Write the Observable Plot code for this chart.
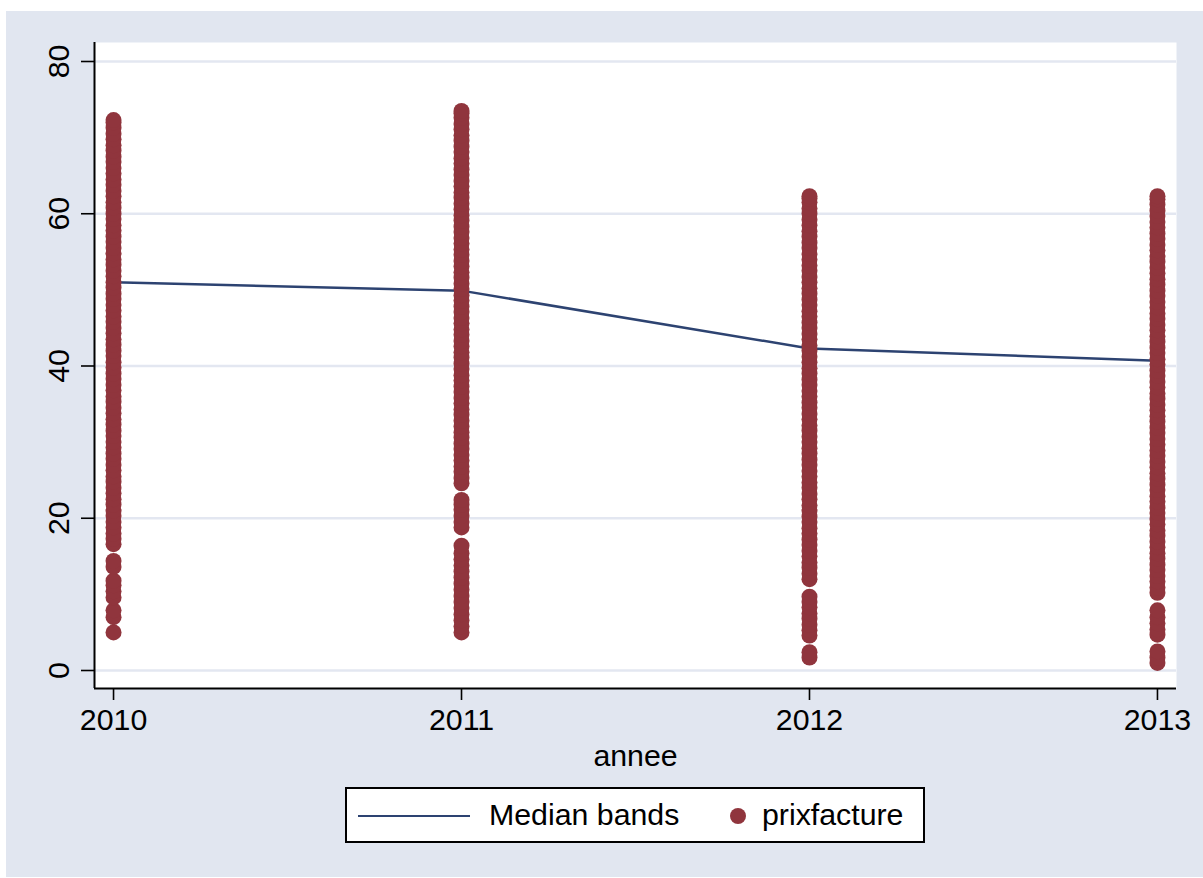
<!DOCTYPE html>
<html>
<head>
<meta charset="utf-8">
<script src="https://cdn.jsdelivr.net/npm/d3@7"></script>
<script src="https://cdn.jsdelivr.net/npm/@observablehq/plot@0.6"></script>
<style>
  html, body { margin: 0; padding: 0; background: #ffffff; }
  #wrap { position: relative; width: 1203px; height: 878px; overflow: hidden;
          font-family: "Liberation Sans", Arial, Helvetica, sans-serif; }
  #bg { position: absolute; left: 6px; top: 11px; right: 0; bottom: 1px; background: #e1e6f0; }
  #chart { position: absolute; left: 0; top: 0; }
  #legend { position: absolute; left: 345px; top: 787px; width: 580px; height: 56px;
            box-sizing: border-box; border: 2px solid #000; background: #fff; }
  #legend .ln { position: absolute; left: 11px; top: 26px; width: 112px; height: 0;
                border-top: 2.5px solid #2d4371; }
  #legend .dot { position: absolute; left: 383px; top: 19px; width: 16px; height: 16px;
                 border-radius: 50%; background: #90353d; }
  #legend .t { position: absolute; top: 10px; font-size: 30.3px; line-height: 32px; color: #000; }
</style>
</head>
<body>
<div id="wrap">
  <div id="bg"></div>
  <div id="chart"></div>
  <div id="legend">
    <div class="ln"></div>
    <div class="t" style="left:142px">Median bands</div>
    <div class="dot"></div>
    <div class="t" style="left:415px">prixfacture</div>
  </div>
</div>
<script>
// ---- data ----
const years = [2010, 2011, 2012, 2013];
const medianBands = [51.0, 49.9, 42.3, 40.7];

const prix2010 = [5.0, 7.0, 7.9, 9.6, 10.4, 11.2, 11.8, 13.6, 14.4, 16.6, 17.3, 18.0, 18.8, 19.5, 20.3,
  21.0, 21.8, 22.5, 23.3, 24.0, 24.8, 25.5, 26.3, 27.0, 27.8, 28.5, 29.3, 30.0, 30.8, 31.5, 32.3,
  33.0, 33.8, 34.5, 35.3, 36.0, 36.8, 37.5, 38.3, 39.0, 39.8, 40.5, 41.3, 42.0, 42.8, 43.5, 44.3,
  45.0, 45.8, 46.5, 47.3, 48.0, 48.8, 49.5, 50.3, 51.0, 51.8, 52.5, 53.3, 54.0, 54.8, 55.5, 56.3,
  57.0, 57.8, 58.5, 59.3, 60.0, 60.8, 61.5, 62.3, 63.0, 63.8, 64.5, 65.3, 66.0, 66.8, 67.5, 68.3,
  69.0, 69.8, 70.5, 71.3, 72.0, 72.3];
const prix2011 = [5.0, 5.8, 6.6, 7.4, 8.2, 9.0, 9.8, 10.6, 11.4, 12.2, 13.0, 13.8, 14.6, 15.4, 16.4,
  18.8, 19.5, 20.3, 21.1, 21.8, 22.4, 24.6, 25.3, 26.1, 26.8, 27.6, 28.3, 29.1, 29.8, 30.6, 31.3,
  32.1, 32.8, 33.6, 34.3, 35.1, 35.8, 36.6, 37.3, 38.1, 38.8, 39.6, 40.3, 41.1, 41.8, 42.6, 43.3,
  44.1, 44.8, 45.6, 46.3, 47.1, 47.8, 48.6, 49.3, 50.1, 50.8, 51.6, 52.3, 53.1, 53.8, 54.6, 55.3,
  56.1, 56.8, 57.6, 58.3, 59.1, 59.8, 60.6, 61.3, 62.1, 62.8, 63.6, 64.3, 65.1, 65.8, 66.6, 67.3,
  68.1, 68.8, 69.6, 70.3, 71.1, 71.8, 72.6, 73.2, 73.5];
const prix2012 = [1.7, 2.4, 4.6, 5.3, 6.0, 6.8, 7.5, 8.3, 9.0, 9.7, 12.0, 12.7, 13.5, 14.2, 15.0, 15.7,
  16.5, 17.2, 18.0, 18.7, 19.5, 20.2, 21.0, 21.7, 22.5, 23.2, 24.0, 24.7, 25.5, 26.2, 27.0, 27.7,
  28.5, 29.2, 30.0, 30.7, 31.5, 32.2, 33.0, 33.7, 34.5, 35.2, 36.0, 36.7, 37.5, 38.2, 39.0, 39.7,
  40.5, 41.2, 42.0, 42.7, 43.5, 44.2, 45.0, 45.7, 46.5, 47.2, 48.0, 48.7, 49.5, 50.2, 51.0, 51.7,
  52.5, 53.2, 54.0, 54.7, 55.5, 56.2, 57.0, 57.7, 58.5, 59.2, 60.0, 60.7, 61.5, 62.0, 62.3];
const prix2013 = [1.0, 1.7, 2.5, 4.7, 5.4, 6.2, 7.0, 7.9, 10.2, 10.9, 11.7, 12.4, 13.2, 13.9, 14.7,
  15.4, 16.2, 16.9, 17.7, 18.4, 19.2, 19.9, 20.7, 21.4, 22.2, 22.9, 23.7, 24.4, 25.2, 25.9, 26.7,
  27.4, 28.2, 28.9, 29.7, 30.4, 31.2, 31.9, 32.7, 33.4, 34.2, 34.9, 35.7, 36.4, 37.2, 37.9, 38.7,
  39.4, 40.2, 40.9, 41.7, 42.4, 43.2, 43.9, 44.7, 45.4, 46.2, 46.9, 47.7, 48.4, 49.2, 49.9, 50.7,
  51.4, 52.2, 52.9, 53.7, 54.4, 55.2, 55.9, 56.7, 57.4, 58.2, 58.9, 59.7, 60.4, 61.2, 61.9, 62.3];

const xTicks = [2010, 2011, 2012, 2013];
const yTicks = [0, 20, 40, 60, 80];
const xLabel = "annee";
const xDomain = [2009.9453, 2013.0547];
const yDomain = [-2.365, 82.496];

// ---- build tables ----
const medianRows = years.map((y, i) => ({annee: y, value: medianBands[i]}));
const pointRows = [];
[prix2010, prix2011, prix2012, prix2013].forEach((arr, i) => {
  arr.forEach(v => pointRows.push({annee: years[i], prixfacture: v}));
});

const font = '"Liberation Sans", Arial, Helvetica, sans-serif';
const fs = 30.3;

const chart = Plot.plot({
  width: 1203,
  height: 775,
  marginLeft: 94,
  marginRight: 27,
  marginTop: 42,
  marginBottom: 87,
  style: {background: "transparent", fontFamily: font, color: "#000", overflow: "visible"},
  x: {domain: xDomain, axis: null},
  y: {domain: yDomain, axis: null},
  marks: [
    Plot.frame({fill: "#ffffff", stroke: "none"}),
    Plot.gridY(yTicks, {stroke: "#e3e7f1", strokeOpacity: 1, strokeWidth: 2.5}),
    Plot.axisY(yTicks, {tickSize: 13, strokeWidth: 1.6, tickFormat: () => ""}),
    Plot.text(yTicks, {y: d => d, frameAnchor: "left", dx: -35, rotate: -90,
      textAnchor: "middle", lineAnchor: "middle", fontSize: fs, text: d => String(d), fill: "#000"}),
    Plot.axisX(xTicks, {tickSize: 12, tickPadding: 8, strokeWidth: 1.6, fontSize: fs,
      tickFormat: d => String(d), label: null}),
    Plot.text([xLabel], {frameAnchor: "bottom", dy: 77, lineAnchor: "bottom",
      text: d => d, fontSize: fs, fill: "#000"}),
    Plot.line(medianRows, {x: "annee", y: "value", stroke: "#2d4371", strokeWidth: 2.5}),
    Plot.dot(pointRows, {x: "annee", y: "prixfacture", r: 8, fill: "#90353d", stroke: "none"}),
    Plot.ruleX([xDomain[0]], {stroke: "#000", strokeWidth: 2}),
    Plot.ruleY([yDomain[0]], {stroke: "#000", strokeWidth: 2})
  ]
});
document.getElementById("chart").appendChild(chart);
</script>
</body>
</html>
